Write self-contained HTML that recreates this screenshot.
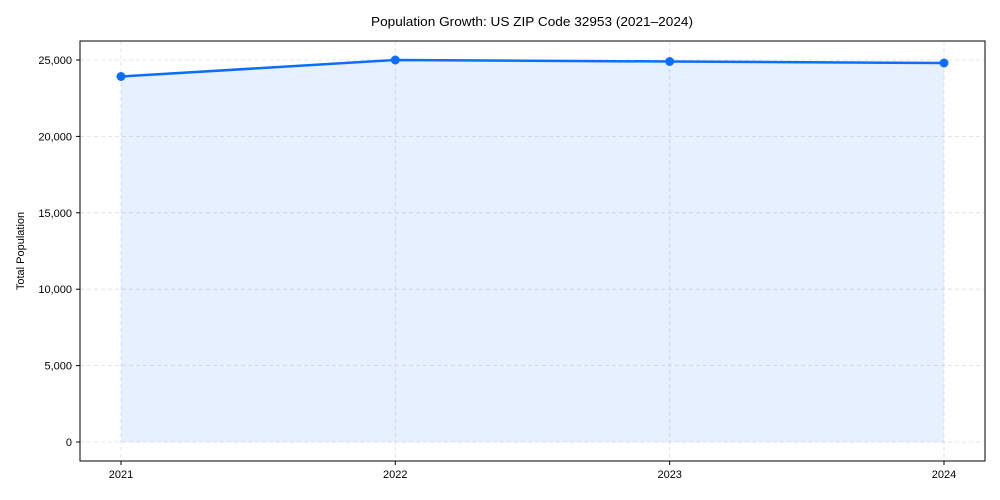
<!DOCTYPE html>
<html><head><meta charset="utf-8"><style>body{margin:0;background:#fff}svg{display:block}text{font-family:"Liberation Sans",Arial,sans-serif;fill:#000}</style></head>
<body>
<svg width="1000" height="500" xmlns="http://www.w3.org/2000/svg">
<rect width="1000" height="500" fill="#fff"/>
<text x="532" y="26" font-size="13" text-anchor="middle" textLength="322" lengthAdjust="spacingAndGlyphs">Population Growth: US ZIP Code 32953 (2021–2024)</text>
<g stroke="#dcdcdc" stroke-width="0.8" stroke-dasharray="4,3">
<line x1="80" x2="985" y1="442" y2="442"/><line x1="80" x2="985" y1="365.6" y2="365.6"/><line x1="80" x2="985" y1="289.2" y2="289.2"/><line x1="80" x2="985" y1="212.8" y2="212.8"/><line x1="80" x2="985" y1="136.4" y2="136.4"/><line x1="80" x2="985" y1="60" y2="60"/>
<line x1="121" x2="121" y1="41" y2="461"/><line x1="395.3" x2="395.3" y1="41" y2="461"/><line x1="669.7" x2="669.7" y1="41" y2="461"/><line x1="944" x2="944" y1="41" y2="461"/>
</g>
<polygon points="121,76.5 395.3,60 669.7,61.5 944,63 944,442 121,442" fill="#1a73f5" fill-opacity="0.11"/>
<polyline points="121,76.5 395.3,60 669.7,61.5 944,63" fill="none" stroke="#0d6efd" stroke-width="2.5"/>
<g fill="#0d6efd"><circle cx="121" cy="76.5" r="4.5"/><circle cx="395.3" cy="60" r="4.5"/><circle cx="669.7" cy="61.5" r="4.5"/><circle cx="944" cy="63" r="4.5"/></g>
<rect x="80" y="41" width="905" height="420" fill="none" stroke="#000" stroke-width="1"/>
<g stroke="#000"><line x1="76" x2="80" y1="442" y2="442"/><line x1="76" x2="80" y1="365.6" y2="365.6"/><line x1="76" x2="80" y1="289.2" y2="289.2"/><line x1="76" x2="80" y1="212.8" y2="212.8"/><line x1="76" x2="80" y1="136.4" y2="136.4"/><line x1="76" x2="80" y1="60" y2="60"/>
<line x1="121" x2="121" y1="461" y2="465"/><line x1="395.3" x2="395.3" y1="461" y2="465"/><line x1="669.7" x2="669.7" y1="461" y2="465"/><line x1="944" x2="944" y1="461" y2="465"/></g>
<g font-size="11" text-anchor="end"><text x="72" y="446">0</text><text x="72" y="369.6">5,000</text><text x="72" y="293.2">10,000</text><text x="72" y="216.8">15,000</text><text x="72" y="140.4">20,000</text><text x="72" y="64">25,000</text></g>
<g font-size="11" text-anchor="middle"><text x="121" y="478">2021</text><text x="395.3" y="478">2022</text><text x="669.7" y="478">2023</text><text x="944" y="478">2024</text></g>
<text transform="translate(24,251) rotate(-90)" font-size="11" text-anchor="middle">Total Population</text>
</svg>
</body></html>
